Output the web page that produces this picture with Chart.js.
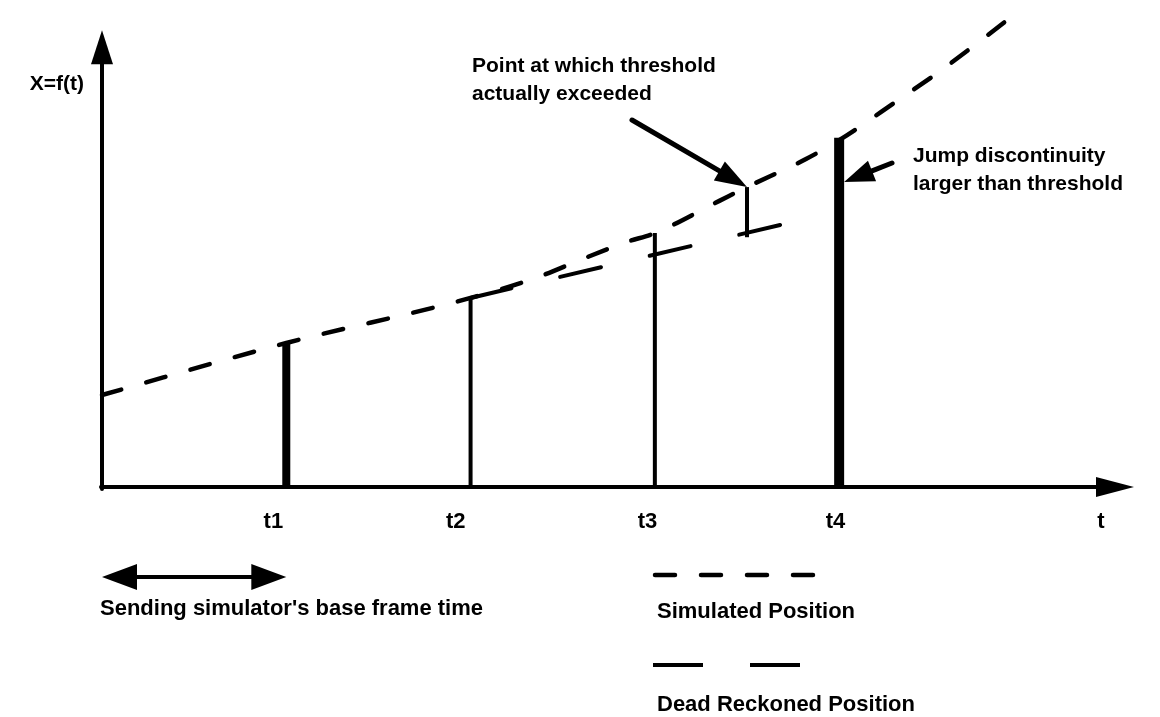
<!DOCTYPE html>
<html>
<head>
<meta charset="utf-8">
<script src="https://cdn.jsdelivr.net/npm/chart.js@4.4.1/dist/chart.umd.min.js"></script>
<style>
html,body{margin:0;padding:0;background:#fff;}
#wrap{width:1160px;height:717px;}
</style>
</head>
<body>
<div id="wrap"><canvas id="c" width="1160" height="717"></canvas></div>
<script>
// ---- Data (time in frame units, position in arbitrary units) ----
const simT = [0, 1.0, 2.0, 2.37, 2.61, 2.85, 3.0, 3.35, 3.5, 3.82, 4.0, 4.32, 4.54, 4.75, 4.96];
const simX = [2.0, 3.13, 4.11, 4.57, 4.96, 5.33, 5.52, 6.22, 6.52, 7.13, 7.54, 8.41, 9.02, 9.65, 10.30];
const drT = [2.0, 3.77];
const drX = [4.11, 5.78];
const markT = [1, 2, 3, 3.5, 4];
const markLow = [0, 0, 0, 5.43, 0];
const markHigh = [3.13, 4.11, 5.52, 6.52, 7.59];
const tickT = [0.93, 1.92, 2.96, 3.98, 5.42];
const tickLabels = ['t1', 't2', 't3', 't4', 't'];
const thresholdPoint = [3.5, 6.52];
const jumpPoint = [4.0, 6.63];
const frameSpan = [0, 1];

const FONT_A = 'bold 21px "Liberation Sans", Arial, sans-serif';
const FONT_B = 'bold 22px "Liberation Sans", Arial, sans-serif';
const markWidths = [8, 4, 4, 4, 10];

const datasets = [];
datasets.push({
  label: 'Simulated Position',
  data: simT.map((t, i) => ({x: t, y: simX[i]})),
  borderColor: '#000', borderWidth: 4.5, borderDash: [20, 26], borderCapStyle: 'round',
  pointRadius: 0, cubicInterpolationMode: 'monotone', fill: false, clip: false
});
datasets.push({
  label: 'Dead Reckoned Position',
  data: drT.map((t, i) => ({x: t, y: drX[i]})),
  borderColor: '#000', borderWidth: 4, borderDash: [42, 50], borderCapStyle: 'round',
  pointRadius: 0, tension: 0, fill: false, clip: false
});
markT.forEach((t, i) => {
  datasets.push({
    label: 'mark' + i,
    data: [{x: t, y: markLow[i]}, {x: t, y: markHigh[i]}],
    borderColor: '#000', borderWidth: markWidths[i], borderCapStyle: 'butt',
    pointRadius: 0, tension: 0, fill: false, clip: false
  });
});

function arrowHead(ctx, x1, y1, x2, y2, len, half) {
  const a = Math.atan2(y2 - y1, x2 - x1);
  ctx.beginPath();
  ctx.moveTo(x2, y2);
  ctx.lineTo(x2 - len * Math.cos(a) + half * Math.sin(a), y2 - len * Math.sin(a) - half * Math.cos(a));
  ctx.lineTo(x2 - len * Math.cos(a) - half * Math.sin(a), y2 - len * Math.sin(a) + half * Math.cos(a));
  ctx.closePath();
  ctx.fill();
}
function arrow(ctx, x1, y1, x2, y2, w, len, half) {
  const a = Math.atan2(y2 - y1, x2 - x1);
  ctx.lineWidth = w;
  ctx.lineCap = 'round';
  ctx.beginPath();
  ctx.moveTo(x1, y1);
  ctx.lineTo(x2 - (len - 2) * Math.cos(a), y2 - (len - 2) * Math.sin(a));
  ctx.stroke();
  arrowHead(ctx, x1, y1, x2, y2, len, half);
}

const decor = {
  id: 'decor',
  beforeDatasetsDraw(chart) {
    const ctx = chart.ctx, xs = chart.scales.x, ys = chart.scales.y;
    const x0 = xs.getPixelForValue(0), y0 = ys.getPixelForValue(0);
    ctx.save();
    ctx.strokeStyle = '#000'; ctx.fillStyle = '#000';
    arrow(ctx, x0, y0 + 2, x0, ys.getPixelForValue(9.93), 4, 34, 11);
    arrow(ctx, x0 - 1, y0, xs.getPixelForValue(5.6), y0, 4, 38, 10);
    ctx.restore();
  },
  afterDraw(chart) {
    const ctx = chart.ctx, xs = chart.scales.x, ys = chart.scales.y;
    ctx.save();
    ctx.fillStyle = '#000'; ctx.strokeStyle = '#000';
    ctx.textBaseline = 'middle';
    ctx.font = FONT_A;
    ctx.textAlign = 'right';
    ctx.fillText('X=f(t)', 84, 84);
    ctx.font = FONT_B;
    ctx.textAlign = 'center';
    tickT.forEach((t, i) => ctx.fillText(tickLabels[i], xs.getPixelForValue(t), 522));
    ctx.font = FONT_A;
    ctx.textAlign = 'left';
    ctx.fillText('Point at which threshold', 472, 66);
    ctx.fillText('actually exceeded', 472, 94);
    ctx.fillText('Jump discontinuity', 913, 156);
    ctx.fillText('larger than threshold', 913, 184);
    const tp = [xs.getPixelForValue(thresholdPoint[0]), ys.getPixelForValue(thresholdPoint[1])];
    arrow(ctx, 632, 120, tp[0], tp[1], 5, 32, 11);
    const jp = [xs.getPixelForValue(jumpPoint[0]) + 5, ys.getPixelForValue(jumpPoint[1])];
    arrow(ctx, 892, 163, jp[0], jp[1], 5, 30, 11);
    const fa = xs.getPixelForValue(frameSpan[0]), fb = xs.getPixelForValue(frameSpan[1]);
    ctx.lineWidth = 4; ctx.lineCap = 'butt';
    ctx.beginPath(); ctx.moveTo(fa + 30, 577); ctx.lineTo(fb - 30, 577); ctx.stroke();
    arrowHead(ctx, fb, 577, fa, 577, 35, 13);
    arrowHead(ctx, fa, 577, fb, 577, 35, 13);
    ctx.font = FONT_B;
    ctx.fillText("Sending simulator's base frame time", 100, 609);
    ctx.lineWidth = 4.5; ctx.lineCap = 'round';
    ctx.setLineDash([20, 26]);
    ctx.beginPath(); ctx.moveTo(655, 575); ctx.lineTo(823, 575); ctx.stroke();
    ctx.lineWidth = 4;
    ctx.setLineDash([50, 47]);
    ctx.lineCap = 'butt';
    ctx.beginPath(); ctx.moveTo(653, 665); ctx.lineTo(800, 665); ctx.stroke();
    ctx.setLineDash([]);
    ctx.fillText('Simulated Position', 657, 612);
    ctx.fillText('Dead Reckoned Position', 657, 705);
    ctx.restore();
  }
};

new Chart(document.getElementById('c'), {
  type: 'line',
  data: { datasets },
  options: {
    responsive: false,
    animation: false,
    devicePixelRatio: 1,
    layout: { padding: { left: 102, right: 26, top: 4, bottom: 230 } },
    plugins: { legend: { display: false }, tooltip: { enabled: false }, title: { display: false } },
    scales: {
      x: { type: 'linear', min: 0, max: 5.6, display: false },
      y: { type: 'linear', min: 0, max: 10.5, display: false }
    }
  },
  plugins: [decor]
});
</script>
</body>
</html>
